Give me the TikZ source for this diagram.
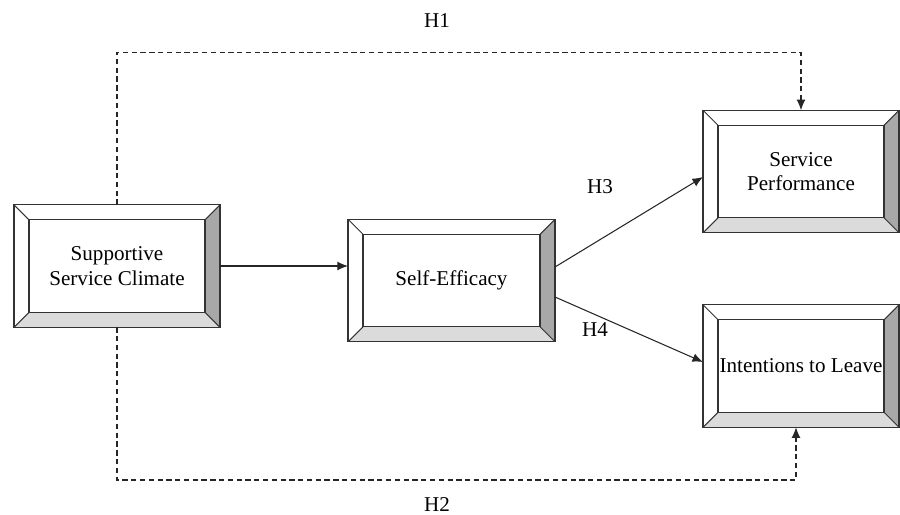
\documentclass[tikz,border=0pt]{standalone}
\usepackage{fontspec}
\setmainfont{Liberation Serif}
\usetikzlibrary{arrows.meta, positioning, calc}
\definecolor{bevdark}{gray}{0.66}
\definecolor{bevlight}{gray}{0.86}
\newcommand\boxfont{\fontsize{12}{14}\selectfont}
\tikzstyle{arrow}=[-{Latex[length=6pt,width=5pt]}, line width=0.6pt, color=black!85]
\tikzstyle{dasharrow}=[arrow, dash pattern=on 3pt off 2pt]

\begin{document}
\begin{tikzpicture}[
  bevel/.style={rectangle, draw=black!80, line width=0.6pt, minimum width=4.12cm,
                minimum height=2.45cm, align=center, font=\boxfont,
                inner sep=0pt, outer sep=0pt,
    path picture={
      \coordinate (bl) at (path picture bounding box.south west);
      \coordinate (tr) at (path picture bounding box.north east);
      \coordinate (br) at (path picture bounding box.south east);
      \coordinate (tl) at (path picture bounding box.north west);
      \fill[bevdark] (tr) -- ++(-0.3,-0.3) -- ($(br)+(-0.3,0.3)$) -- (br) -- cycle;
      \fill[bevlight] (bl) -- ++(0.3,0.3) -- ($(br)+(-0.3,0.3)$) -- (br) -- cycle;
      \draw[line width=0.6pt, black!80] ($(bl)+(0.3,0.3)$) rectangle ($(tr)+(-0.3,-0.3)$);
      \draw[line width=0.6pt, black!80] (tl) -- ++(0.3,-0.3) (tr) -- ++(-0.3,-0.3)
            (bl) -- ++(0.3,0.3) (br) -- ++(-0.3,0.3);
    }},
  lbl/.style={font=\boxfont, inner sep=1pt}
]
\useasboundingbox (0,0) rectangle (18,-10.3);

% Boxes
\node[bevel] (climate) at (2.34,-5.32) {Supportive\\Service Climate};
\node[bevel, minimum width=4.14cm, right=2.56cm of climate, yshift=-0.29cm] (efficacy) {Self-Efficacy};
\node[bevel, minimum width=3.92cm, right=2.96cm of efficacy, yshift=2.18cm] (perform) {Service\\Performance};
\node[bevel, minimum width=3.92cm, below=1.44cm of perform] (leave) {Intentions to Leave};

% Hypothesis labels
\node[lbl] (h1) at (8.74,-0.42) {H1};
\node[lbl] (h2) at (8.74,-10.1) {H2};
\node[lbl] (h3) at (12.0,-3.74) {H3};
\node[lbl] (h4) at (11.9,-6.6) {H4};

% Paths
\draw[arrow] (climate.east) -- (climate.east -| efficacy.west);
\draw[arrow] ($(efficacy.east)+(0,0.27)$) -- ($(perform.west)+(0,-0.11)$);
\draw[arrow] ($(efficacy.east)+(0,-0.33)$) -- ($(leave.west)+(0,0.08)$);
\draw[dasharrow] (climate.north) -- (climate.north |- 0,-1.05) -| (perform.north);
\draw[dasharrow] (climate.south) -- (climate.south |- 0,-9.6) -| ([xshift=-0.1cm]leave.south);
\end{tikzpicture}
\end{document}
